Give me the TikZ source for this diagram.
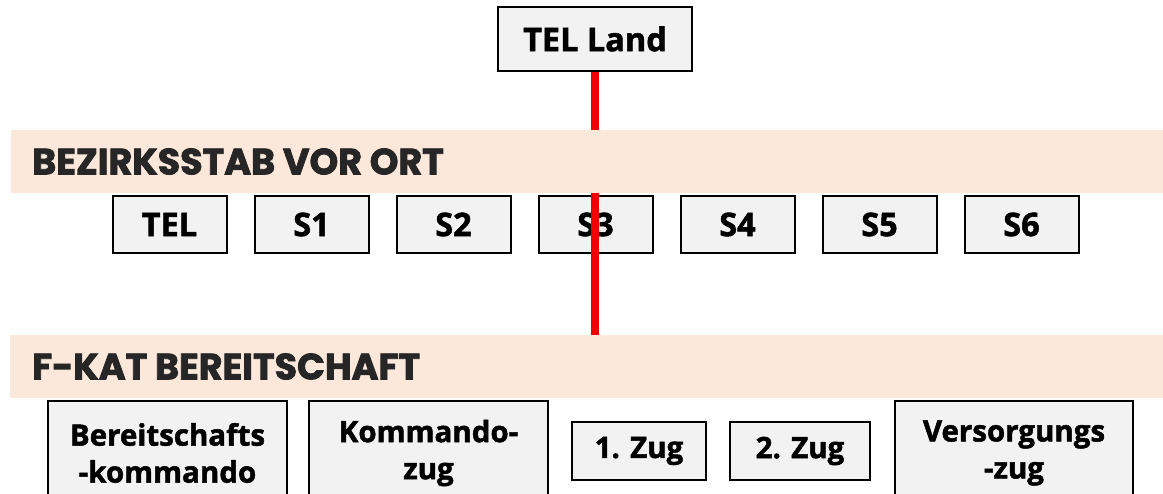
\documentclass[tikz,border=0pt]{standalone}
\usepackage{fontspec}
\setmainfont{Open Sans}[BoldFeatures={FakeBold=1.6}]
\newfontfamily\headfont{Poppins}[BoldFeatures={FakeBold=2.2}]
\definecolor{bandfill}{HTML}{FCE8DA}
\definecolor{boxfill}{HTML}{F2F2F2}
\definecolor{headtext}{HTML}{262626}
\definecolor{linkred}{HTML}{EE0000}
\tikzset{
  unitbox/.style={draw=black, line width=2pt, fill=boxfill, inner sep=0pt,
    align=center, font=\bfseries\fontsize{32.5}{38}\selectfont},
  smallbox/.style={unitbox, font=\bfseries\fontsize{29.5}{37}\selectfont},
  band/.style={fill=bandfill, inner sep=0pt, anchor=north west},
  bandtitle/.style={text=headtext, anchor=west, inner sep=0pt,
    font=\headfont\bfseries\fontsize{36.5}{42}\selectfont},
  link/.style={draw=linkred, line width=8pt}
}
\begin{document}
\begin{tikzpicture}[x=1pt, y=-1pt]
\useasboundingbox (0,0) rectangle (1163,494);

% top-level command unit
\node[unitbox, minimum width=194pt, minimum height=64pt] (telland) at (595,39) {TEL Land};

% district staff band
\node[band, minimum width=1152pt, minimum height=63pt] (bandA) at (11,130) {};
\node[bandtitle] (titleA) at (32,161.5) {BEZIRKSSTAB VOR ORT};

% staff functions
\foreach \name/\lbl [count=\i from 0] in {tel/TEL, sa/S1, sb/S2, sc/S3, sd/S4, se/S5, sf/S6}
  \node[unitbox, minimum width=114pt, minimum height=57pt] (\name) at (169.5+142*\i,224.5) {\lbl};

% standby unit band
\node[band, minimum width=1153pt, minimum height=63pt] (bandB) at (10,335) {};
\node[bandtitle] (titleB) at (32,366.5) {F-KAT BEREITSCHAFT};

% sub-units
\node[smallbox, minimum width=239pt, minimum height=104pt, anchor=north] (bk) at (167.5,400) {Bereitschafts\\-kommando};
\node[smallbox, minimum width=239pt, minimum height=104pt, anchor=north] (kz) at (428.5,400) {Kommando-\\zug};
\node[smallbox, minimum width=134pt, minimum height=58pt] (zug1) at (639,451) {1. Zug};
\node[smallbox, minimum width=140pt, minimum height=58pt] (zug2) at (800,451) {2. Zug};
\node[smallbox, minimum width=238pt, minimum height=104pt, anchor=north] (vz) at (1014,400) {Versorgungs\\-zug};

% command links
\draw[link] (telland.south) -- (telland.south |- bandA.north);
\draw[link] (telland.south |- bandA.south) -- (telland.south |- bandB.north);
\end{tikzpicture}
\end{document}
